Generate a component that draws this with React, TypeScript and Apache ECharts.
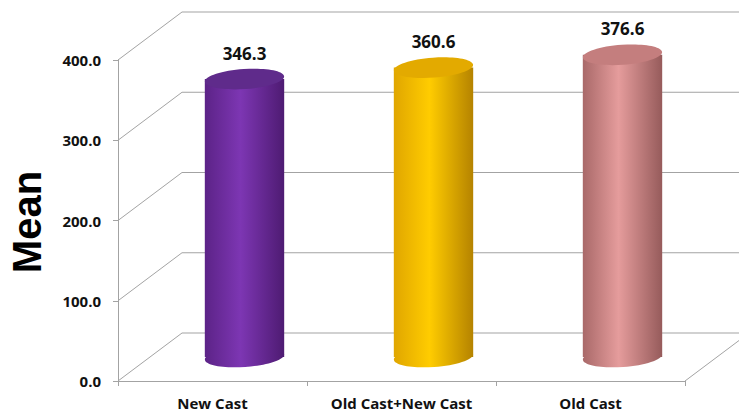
import React, { useEffect, useRef } from "react";
import * as echarts from "echarts";

const categories = ["New Cast", "Old Cast+New Cast", "Old Cast"];
const means = [346.3, 360.6, 376.6];
const yTicks = [0, 100, 200, 300, 400];

const DX = 64;
const DY = -48;
const GRAY = "#a3a3a3";

const palettes = [
  { left: "#5c2387", mid: "#7d36b3", right: "#4e1b72", top: "#5f2b8b" },
  { left: "#e0a600", mid: "#ffcc00", right: "#b58300", top: "#e3aa00" },
  { left: "#a96969", mid: "#e59c9c", right: "#965b5b", top: "#c47e7e" },
];

export default function App() {
  const ref = useRef<HTMLDivElement>(null);
  useEffect(() => {
    const chart = echarts.init(ref.current!, null, { renderer: "svg" });
    const option: any = {
      animation: false,
      backgroundColor: "#ffffff",
      grid: { left: 118, right: 54, top: 60, bottom: 33 },
      xAxis: {
        type: "category",
        data: categories,
        axisLine: { show: true, lineStyle: { color: GRAY, width: 1 } },
        axisTick: { show: true, length: 5, lineStyle: { color: GRAY } },
        axisLabel: {
          margin: 14,
          color: "#111",
          fontWeight: "bold",
          fontSize: 15,
          fontFamily: "Open Sans",
        },
      },
      yAxis: {
        type: "value",
        min: 0,
        max: 400,
        interval: 100,
        axisLine: { show: true, lineStyle: { color: GRAY, width: 1 } },
        axisTick: { show: true, length: 5, lineStyle: { color: GRAY } },
        splitLine: { show: false },
        axisLabel: {
          margin: 17,
          color: "#111",
          fontWeight: "bold",
          fontSize: 15,
          fontFamily: "Open Sans",
          formatter: (v: number) => v.toFixed(1),
        },
      },
      graphic: [
        {
          type: "text",
          x: 27,
          y: 222,
          rotation: Math.PI / 2,
          style: {
            text: "Mean",
            font: 'bold 40px "Liberation Sans"',
            fill: "#000",
            align: "center",
            verticalAlign: "middle",
          },
        },
      ],
      series: [
        {
          type: "custom",
          coordinateSystem: "cartesian2d",
          clip: false,
          silent: true,
          z: 1,
          encode: { x: 0, y: 1 },
          data: yTicks.map((v) => [0, v]),
          renderItem: (params: any, api: any) => {
            const v = api.value(1);
            const cs = params.coordSys;
            const left = cs.x;
            const right = cs.x + cs.width;
            const y = api.coord([0, v])[1];
            const children: any[] = [
              {
                type: "line",
                shape: { x1: left, y1: y, x2: left + DX, y2: y + DY },
                style: { stroke: GRAY, lineWidth: 1 },
              },
              {
                type: "line",
                shape: { x1: left + DX, y1: y + DY, x2: right + DX, y2: y + DY },
                style: { stroke: GRAY, lineWidth: 1 },
              },
            ];
            if (v === 0) {
              children.push({
                type: "line",
                shape: { x1: right, y1: y, x2: right + DX, y2: y + DY },
                style: { stroke: GRAY, lineWidth: 1 },
              });
            }
            return { type: "group", children };
          },
        },
        {
          type: "custom",
          coordinateSystem: "cartesian2d",
          clip: false,
          z: 5,
          encode: { x: 0, y: 1 },
          data: means.map((m, i) => [i, m]),
          renderItem: (params: any, api: any) => {
            const idx = api.value(0);
            const v = api.value(1);
            const base = api.coord([idx, 0]);
            const top = api.coord([idx, v]);
            const cx = base[0] + DX / 2;
            const by = base[1] + DY / 2;
            const ty = top[1] + DY / 2;
            const w = api.size([1, 0])[0] * 0.42;
            const rx = w / 2;
            const ry = 10;
            const p = palettes[params.dataIndex];
            const grad = new echarts.graphic.LinearGradient(0, 0, 1, 0, [
              { offset: 0, color: p.left },
              { offset: 0.45, color: p.mid },
              { offset: 1, color: p.right },
            ]);
            const rot = 0.07;
            return {
              type: "group",
              children: [
                {
                  type: "ellipse",
                  x: cx,
                  y: by,
                  rotation: rot,
                  shape: { cx: 0, cy: 0, rx, ry },
                  style: { fill: grad },
                },
                {
                  type: "rect",
                  shape: { x: cx - rx, y: ty, width: w, height: by - ty },
                  style: { fill: grad },
                },
                {
                  type: "ellipse",
                  x: cx,
                  y: ty,
                  rotation: rot,
                  shape: { cx: 0, cy: 0, rx, ry },
                  style: { fill: p.top },
                },
                {
                  type: "text",
                  style: {
                    text: v.toFixed(1),
                    x: cx,
                    y: ty - 26,
                    align: "center",
                    verticalAlign: "middle",
                    font: 'bold 17px "Open Sans"',
                    fill: "#111",
                  },
                },
              ],
            };
          },
        },
      ],
    };
    chart.setOption(option);
    return () => chart.dispose();
  }, []);
  return (
    <div
      ref={ref}
      style={{ position: "fixed", left: 0, top: 0, width: 739, height: 414 }}
    />
  );
}
